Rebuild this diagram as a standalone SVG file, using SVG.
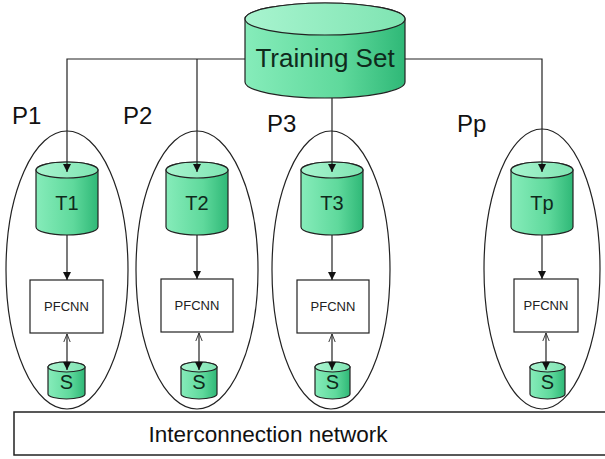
<svg xmlns="http://www.w3.org/2000/svg" width="605" height="459" viewBox="0 0 605 459">
<defs>
<linearGradient id="gb" x1="0" y1="0" x2="1" y2="0">
<stop offset="0" stop-color="#86ecba"/>
<stop offset="0.6" stop-color="#5fd99c"/>
<stop offset="1" stop-color="#2fb877"/>
</linearGradient>
<linearGradient id="gt" x1="0" y1="0" x2="1" y2="0">
<stop offset="0" stop-color="#a8f4cf"/>
<stop offset="1" stop-color="#7fe4b2"/>
</linearGradient>
<marker id="ah" viewBox="0 0 10 10" refX="10" refY="5" markerWidth="8" markerHeight="8" markerUnits="userSpaceOnUse" orient="auto">
<path d="M0,0 L10,5 L0,10 Z" fill="#111"/>
</marker>
<marker id="ao" viewBox="0 0 10 10" refX="10" refY="5" markerWidth="8" markerHeight="8" markerUnits="userSpaceOnUse" orient="auto-start-reverse">
<path d="M0,1 L10,5 L0,9" fill="none" stroke="#333" stroke-width="1.2"/>
</marker>
</defs>
<style>
.body{fill:url(#gb);stroke:#222;stroke-width:1.2}
.top{fill:url(#gt);stroke:#222;stroke-width:1.2}
.proc{fill:none;stroke:#222;stroke-width:1.2}
.box{fill:#fff;stroke:#222;stroke-width:1.2}
.ln{fill:none;stroke:#222;stroke-width:1.2}
.lbl{font-family:"Liberation Sans",Arial,sans-serif;fill:#111}
.cyl{font-family:"Liberation Sans",Arial,sans-serif;fill:#0f2a1c;text-anchor:middle}
.pf{font-family:"Liberation Sans",Arial,sans-serif;fill:#222;font-size:13px;text-anchor:middle}
</style>

<g id="P1">
<ellipse class="proc" cx="67" cy="270" rx="61" ry="139"/>
<text class="lbl" x="12" y="124" font-size="24">P1</text>
</g>
<g id="P2">
<ellipse class="proc" cx="197" cy="270" rx="61" ry="139"/>
<text class="lbl" x="123" y="124" font-size="24">P2</text>
</g>
<g id="P3">
<ellipse class="proc" cx="331" cy="270" rx="59" ry="139"/>
<text class="lbl" x="267" y="132" font-size="24">P3</text>
</g>
<g id="Pp">
<ellipse class="proc" cx="542" cy="269" rx="58" ry="140"/>
<text class="lbl" x="457" y="132" font-size="24">Pp</text>
</g>

<g id="TrainingSet">
<path class="body" d="M245,19 V82 A80,16 0 0 0 405,82 V19 A80,16 0 0 0 245,19 Z"/>
<ellipse class="top" cx="325" cy="19" rx="80" ry="16"/>
<text class="cyl" x="325" y="67" font-size="26">Training Set</text>
</g>

<g id="T1">
<path class="body" d="M36,170 V227 A31,8 0 0 0 98,227 V170 A31,8 0 0 0 36,170 Z"/>
<ellipse class="top" cx="67" cy="170" rx="31" ry="8"/>
<text class="cyl" x="67" y="210" font-size="20">T1</text>
</g>
<g id="T2">
<path class="body" d="M166,170 V227 A31,8 0 0 0 228,227 V170 A31,8 0 0 0 166,170 Z"/>
<ellipse class="top" cx="197" cy="170" rx="31" ry="8"/>
<text class="cyl" x="197" y="210" font-size="20">T2</text>
</g>
<g id="T3">
<path class="body" d="M301,170 V227 A31,8 0 0 0 363,227 V170 A31,8 0 0 0 301,170 Z"/>
<ellipse class="top" cx="332" cy="170" rx="31" ry="8"/>
<text class="cyl" x="332" y="210" font-size="20">T3</text>
</g>
<g id="Tp">
<path class="body" d="M511,170 V227 A31,8 0 0 0 573,227 V170 A31,8 0 0 0 511,170 Z"/>
<ellipse class="top" cx="542" cy="170" rx="31" ry="8"/>
<text class="cyl" x="542" y="210" font-size="20">Tp</text>
</g>

<g id="PFCNN1">
<rect class="box" x="30" y="280" width="73" height="53"/>
<text class="pf" x="66.5" y="311">PFCNN</text>
</g>
<g id="PFCNN2">
<rect class="box" x="161" y="279" width="72" height="53"/>
<text class="pf" x="197" y="310">PFCNN</text>
</g>
<g id="PFCNN3">
<rect class="box" x="297" y="280" width="72" height="53"/>
<text class="pf" x="333" y="311">PFCNN</text>
</g>
<g id="PFCNNp">
<rect class="box" x="514" y="279" width="64" height="53"/>
<text class="pf" x="546" y="310">PFCNN</text>
</g>

<g id="S1">
<path class="body" d="M48,367 V394 A18.5,5 0 0 0 85,394 V367 A18.5,5 0 0 0 48,367 Z"/>
<ellipse class="top" cx="66.5" cy="367" rx="18.5" ry="5"/>
<text class="cyl" x="66.5" y="389" font-size="20">S</text>
</g>
<g id="S2">
<path class="body" d="M181,367 V394 A18,5 0 0 0 217,394 V367 A18,5 0 0 0 181,367 Z"/>
<ellipse class="top" cx="199" cy="367" rx="18" ry="5"/>
<text class="cyl" x="199" y="389" font-size="20">S</text>
</g>
<g id="S3">
<path class="body" d="M315,367 V394 A17.5,5 0 0 0 350,394 V367 A17.5,5 0 0 0 315,367 Z"/>
<ellipse class="top" cx="332.5" cy="367" rx="17.5" ry="5"/>
<text class="cyl" x="332.5" y="389" font-size="20">S</text>
</g>
<g id="Sp">
<path class="body" d="M530,367 V394 A17.5,5 0 0 0 565,394 V367 A17.5,5 0 0 0 530,367 Z"/>
<ellipse class="top" cx="547.5" cy="367" rx="17.5" ry="5"/>
<text class="cyl" x="547.5" y="389" font-size="20">S</text>
</g>

<g id="Interconnection">
<rect x="14" y="412" width="595" height="43" fill="#fff" stroke="#222" stroke-width="1.5"/>
<text class="lbl" x="268" y="442" font-size="22.5" text-anchor="middle">Interconnection network</text>
</g>

<g id="connectors">
<polyline class="ln" points="245,59 67,59 67,172" marker-end="url(#ah)"/>
<line class="ln" x1="197" y1="59" x2="197" y2="172" marker-end="url(#ah)"/>
<line class="ln" x1="332" y1="98" x2="332" y2="172" marker-end="url(#ah)"/>
<polyline class="ln" points="405,59 542,59 542,172" marker-end="url(#ah)"/>
<line class="ln" x1="67" y1="235" x2="67" y2="280" marker-end="url(#ah)"/>
<line class="ln" x1="197" y1="235" x2="197" y2="279" marker-end="url(#ah)"/>
<line class="ln" x1="332" y1="235" x2="332" y2="280" marker-end="url(#ah)"/>
<line class="ln" x1="542" y1="235" x2="542" y2="279" marker-end="url(#ah)"/>
<line class="ln" x1="67" y1="334" x2="67" y2="370" marker-start="url(#ao)" marker-end="url(#ah)"/>
<line class="ln" x1="199" y1="333" x2="199" y2="370" marker-start="url(#ao)" marker-end="url(#ah)"/>
<line class="ln" x1="332" y1="334" x2="332" y2="370" marker-start="url(#ao)" marker-end="url(#ah)"/>
<line class="ln" x1="546" y1="333" x2="546" y2="370" marker-start="url(#ao)" marker-end="url(#ah)"/>
</g>
</svg>
